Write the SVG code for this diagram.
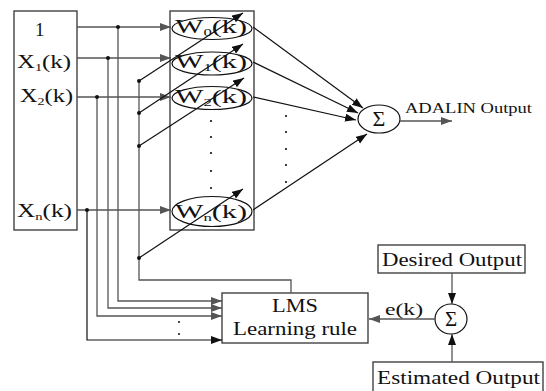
<svg xmlns="http://www.w3.org/2000/svg" width="546" height="391" viewBox="0 0 546 391">
<style>
.box{fill:#fff;stroke:#333;stroke-width:1.3}
.ell{fill:none;stroke:#111;stroke-width:1.2}
.t{font-family:"Liberation Serif","Times New Roman",serif;fill:#111}
.gl{fill:none;stroke:#555;stroke-width:1.3}
.bl{fill:none;stroke:#111;stroke-width:1.2}
.dot{fill:#111}
</style>
<defs>
<marker id="ag" markerUnits="userSpaceOnUse" markerWidth="12" markerHeight="10" refX="11" refY="4" orient="auto"><path d="M0,0 L11,4 L0,8 Z" fill="#555"/></marker>
<marker id="ab" markerUnits="userSpaceOnUse" markerWidth="12" markerHeight="10" refX="11" refY="4" orient="auto"><path d="M0,0 L11,4 L0,8 Z" fill="#111"/></marker>
</defs>

<g id="inputs">
<rect class="box" x="14" y="11" width="63" height="219"/>
<text class="t" x="35" y="36" font-size="19">1</text>
<text class="t" x="17" y="68" font-size="19" textLength="54" lengthAdjust="spacingAndGlyphs">X<tspan font-size="11" dy="3">1</tspan><tspan dy="-3">(k)</tspan></text>
<text class="t" x="20" y="102" font-size="19" textLength="53" lengthAdjust="spacingAndGlyphs">X<tspan font-size="11" dy="3">2</tspan><tspan dy="-3">(k)</tspan></text>
<text class="t" x="17" y="217" font-size="19" textLength="55" lengthAdjust="spacingAndGlyphs">X<tspan font-size="11" dy="3">n</tspan><tspan dy="-3">(k)</tspan></text>
</g>

<g id="weights">
<rect class="box" x="170" y="11" width="84" height="219"/>
<ellipse class="ell" cx="212" cy="28.5" rx="40" ry="11"/>
<text class="t" x="175" y="33" font-size="18" textLength="72" lengthAdjust="spacingAndGlyphs">W<tspan font-size="10" dy="3">0</tspan><tspan dy="-3">(k)</tspan></text>
<ellipse class="ell" cx="212" cy="63.5" rx="40" ry="11.5"/>
<text class="t" x="175" y="68" font-size="18" textLength="72" lengthAdjust="spacingAndGlyphs">W<tspan font-size="10" dy="3">1</tspan><tspan dy="-3">(k)</tspan></text>
<ellipse class="ell" cx="212" cy="98" rx="40" ry="11.5"/>
<text class="t" x="175" y="103" font-size="18" textLength="72" lengthAdjust="spacingAndGlyphs">W<tspan font-size="10" dy="3">2</tspan><tspan dy="-3">(k)</tspan></text>
<ellipse class="ell" cx="212" cy="211.5" rx="40" ry="15"/>
<text class="t" x="175" y="218" font-size="18" textLength="72" lengthAdjust="spacingAndGlyphs">W<tspan font-size="10" dy="3">n</tspan><tspan dy="-3">(k)</tspan></text>
<circle class="dot" cx="211" cy="121" r="1.1"/>
<circle class="dot" cx="211" cy="137" r="1.1"/>
<circle class="dot" cx="211" cy="153" r="1.1"/>
<circle class="dot" cx="211" cy="171" r="1.1"/>
<circle class="dot" cx="211" cy="188" r="1.1"/>
</g>

<g id="sum">
<ellipse class="ell" cx="379" cy="119" rx="21" ry="14"/>
<text class="t" x="379" y="126" font-size="22" text-anchor="middle">Σ</text>
<text class="t" x="405" y="113" font-size="15" textLength="127" lengthAdjust="spacingAndGlyphs">ADALIN Output</text>
</g>

<g id="lms">
<rect class="box" x="222" y="293" width="146" height="50"/>
<text class="t" x="295" y="312" font-size="19" text-anchor="middle" textLength="46" lengthAdjust="spacingAndGlyphs">LMS</text>
<text class="t" x="295" y="335" font-size="19" text-anchor="middle" textLength="124" lengthAdjust="spacingAndGlyphs">Learning rule</text>
</g>

<g id="desired">
<rect class="box" x="378" y="245" width="147" height="28"/>
<text class="t" x="452" y="266" font-size="19" text-anchor="middle" textLength="140" lengthAdjust="spacingAndGlyphs">Desired Output</text>
</g>

<g id="sum2">
<ellipse class="ell" cx="451" cy="319" rx="16" ry="15"/>
<text class="t" x="451" y="326" font-size="21" text-anchor="middle">Σ</text>
</g>

<g id="estimated">
<rect class="box" x="373" y="362" width="170" height="36"/>
<text class="t" x="377" y="384" font-size="19" textLength="163" lengthAdjust="spacingAndGlyphs">Estimated Output</text>
</g>

<g id="connectors">
<line class="gl" x1="77" y1="27" x2="171" y2="27" marker-end="url(#ag)"/>
<line class="gl" x1="77" y1="58" x2="171" y2="58" marker-end="url(#ag)"/>
<line class="gl" x1="77" y1="97" x2="171" y2="97" marker-end="url(#ag)"/>
<line class="gl" x1="77" y1="210" x2="171" y2="210" marker-end="url(#ag)"/>
<polyline class="gl" points="118,27 118,301 222,301" marker-end="url(#ag)"/>
<polyline class="gl" points="108,58 108,308 222,308" marker-end="url(#ag)"/>
<polyline class="gl" points="97,97 97,316 222,316" marker-end="url(#ag)"/>
<polyline class="bl" points="87,210 87,340 222,340" marker-end="url(#ab)"/>
<circle class="dot" cx="118" cy="27" r="2"/>
<circle class="dot" cx="108" cy="58" r="2"/>
<circle class="dot" cx="97" cy="97" r="2"/>
<circle class="dot" cx="87" cy="210" r="2"/>
<circle class="dot" cx="179" cy="322" r="1"/>
<circle class="dot" cx="179" cy="334" r="1"/>
<polyline class="gl" points="139,81 139,280 291,280 291,293"/>
<line class="bl" x1="139" y1="81" x2="243" y2="13" marker-end="url(#ab)"/>
<line class="bl" x1="139" y1="113" x2="243" y2="44" marker-end="url(#ab)"/>
<line class="bl" x1="139" y1="146" x2="244" y2="78" marker-end="url(#ab)"/>
<line class="bl" x1="139" y1="258" x2="243" y2="189" marker-end="url(#ab)"/>
<circle class="dot" cx="139" cy="81" r="2"/>
<circle class="dot" cx="139" cy="113" r="2"/>
<circle class="dot" cx="139" cy="146" r="2"/>
<circle class="dot" cx="139" cy="258" r="2"/>
<line class="bl" x1="253" y1="27" x2="363" y2="108" marker-end="url(#ab)"/>
<line class="bl" x1="253" y1="62" x2="358" y2="113" marker-end="url(#ab)"/>
<line class="bl" x1="253" y1="97" x2="356" y2="120" marker-end="url(#ab)"/>
<line class="bl" x1="253" y1="210" x2="367" y2="134" marker-end="url(#ab)"/>
<circle class="dot" cx="286" cy="116" r="1.1"/>
<circle class="dot" cx="286" cy="132" r="1.1"/>
<circle class="dot" cx="286" cy="149" r="1.1"/>
<circle class="dot" cx="286" cy="165" r="1.1"/>
<circle class="dot" cx="286" cy="182" r="1.1"/>
<line class="gl" x1="400" y1="121" x2="452" y2="121" marker-end="url(#ag)"/>
<line class="gl" x1="452" y1="273" x2="452" y2="304" marker-end="url(#ab)"/>
<line class="gl" x1="452" y1="362" x2="452" y2="334" marker-end="url(#ab)"/>
<line class="gl" x1="435" y1="319" x2="369" y2="319" marker-end="url(#ag)"/>
<text class="t" x="385" y="315" font-size="17" textLength="38" lengthAdjust="spacingAndGlyphs">e(k)</text>
</g>
</svg>
